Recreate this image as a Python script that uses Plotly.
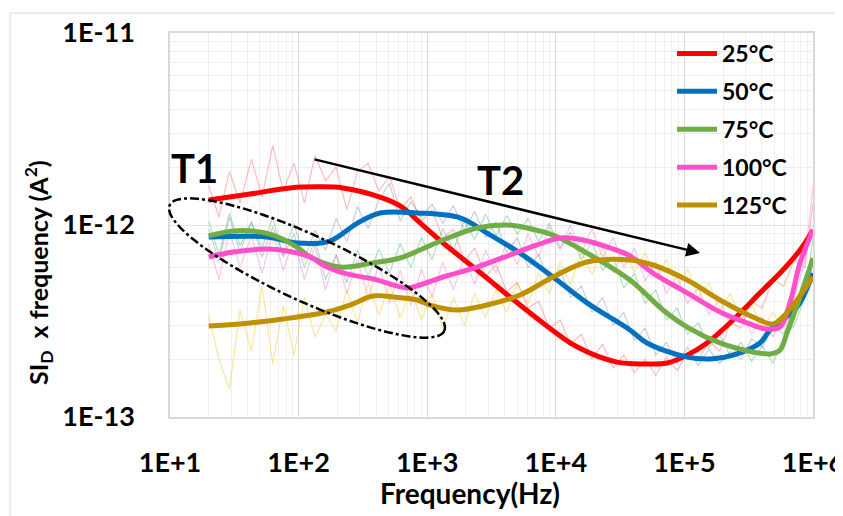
import numpy as np
import plotly.graph_objects as go

# ---- data (A^2; values in units of 1e-13) ----
labels = ["25°C", "50°C", "75°C", "100°C", "125°C"]
colors = ["#ff0000", "#0070c0", "#70ad47", "#ff4fcb", "#bf9000"]
raw_colors = ["rgba(255,90,90,0.40)", "rgba(110,140,170,0.40)", "rgba(60,180,100,0.40)",
              "rgba(245,110,210,0.40)", "rgba(255,200,40,0.45)"]

# raw (noisy) spectra, shared frequency grid
f_raw = [20, 24, 29, 35, 43, 52, 63, 76, 92, 111, 134, 162, 196, 237, 287, 348, 421, 509, 616, 746,
         902, 1090, 1320, 1600, 1940, 2340, 2840, 3430, 4150, 5020, 6080, 7360, 8900, 10800, 13000,
         15800, 19100, 23100, 27900, 33800, 40900, 49500, 59900, 72500, 87700, 106000, 128000,
         155000, 188000, 228000, 275000, 333000, 403000, 488000, 591000, 715000, 865000, 1000000]

raw_25 = [16, 11, 19, 13, 22, 14, 26, 15, 21, 13, 23, 17, 20, 12, 19, 21, 15, 18, 12, 14,
          10.5, 12, 8.5, 9.5, 6.5, 7.6, 5.4, 6.2, 4.5, 5.0, 3.7, 4.0, 2.9, 3.2, 2.4, 2.7,
          2.0, 2.4, 1.8, 2.1, 1.7, 2.0, 1.65, 2.05, 1.75, 2.15, 1.95, 2.5, 2.2, 3.1,
          2.9, 4.0, 3.7, 5.2, 4.8, 6.6, 6.0, 13]
raw_50 = [9.5, 6.5, 11, 7.2, 10.5, 6.8, 9.8, 7.0, 10.2, 6.6, 9.4, 7.4, 10.8, 8.2, 12.5, 9.6, 13.5, 16.5,
          10.5, 13.2, 11, 12.8, 10.2, 12.6, 9.4, 11.8, 8.6, 10.4, 7.2, 8.6, 6.0, 7.0, 5.0, 5.9, 4.2,
          4.8, 3.5, 4.2, 3.0, 3.5, 2.5, 2.9, 2.1, 2.45, 1.9, 2.3, 1.85, 2.25, 1.9, 2.2, 2.0, 2.55,
          2.3, 2.95, 2.7, 3.9, 4.2, 6.5]
raw_75 = [10.5, 7.0, 11.5, 7.8, 10.2, 7.6, 11, 6.8, 9.0, 6.0, 8.4, 5.2, 7.0, 5.0, 7.4, 5.4, 7.5, 5.6,
          8.0, 6.0, 8.6, 6.6, 9.6, 7.4, 10.5, 8.4, 11.4, 8.8, 11.2, 9.0, 10.8, 8.2, 10.2, 7.6, 9.2,
          6.6, 8.2, 5.8, 6.8, 4.7, 5.6, 3.9, 4.6, 3.2, 3.7, 2.7, 3.1, 2.3, 2.7, 2.05, 2.45, 1.95,
          2.35, 1.9, 2.6, 3.0, 4.2, 8.5]
raw_100 = [8.0, 5.2, 9.4, 6.0, 8.8, 5.6, 9.2, 5.8, 8.4, 5.2, 7.8, 4.6, 7.0, 4.4, 6.6, 4.2, 6.2, 3.9,
           5.8, 3.8, 5.9, 4.2, 6.4, 4.6, 6.8, 4.9, 7.4, 5.6, 8.2, 6.2, 9.0, 6.8, 9.8, 7.4, 10,
           7.2, 9.6, 6.8, 8.6, 6.0, 7.6, 5.1, 6.4, 4.4, 5.4, 3.9, 4.7, 3.4, 4.1, 3.0, 3.6, 2.7,
           3.3, 2.6, 3.4, 4.2, 6.5, 16]
raw_125 = [3.4, 2.0, 1.4, 3.6, 2.2, 4.8, 1.9, 3.8, 2.1, 4.2, 2.6, 3.4, 2.8, 4.6, 3.1, 5.0, 3.4, 4.9,
           3.3, 4.6, 3.2, 4.4, 2.9, 4.2, 3.0, 4.4, 3.3, 4.6, 3.5, 5.0, 3.9, 5.6, 4.4, 6.4, 4.9,
           7.2, 5.5, 7.6, 5.6, 7.5, 5.7, 7.2, 5.3, 6.6, 4.7, 5.9, 4.2, 5.0, 3.6, 4.4, 3.2, 3.9,
           2.9, 3.5, 2.9, 3.6, 4.2, 5.5]
raw_series = [raw_25, raw_50, raw_75, raw_100, raw_125]

# smoothed curves
f_25 = [20, 42, 86, 139, 221, 453, 649, 834, 1330, 2440, 4400, 7940, 14600, 29900, 51200, 73200,
        105000, 150000, 239000, 387000, 584000, 793000, 1000000]
s_25 = [13.5, 14.5, 15.6, 15.8, 15.6, 13.8, 12.3, 10.6, 8.06, 5.83, 4.22, 3.09, 2.32, 1.93, 1.89,
        1.91, 2.10, 2.43, 3.20, 4.43, 5.83, 7.41, 9.42]
f_50 = [20, 57, 97, 175, 285, 430, 834, 1800, 2920, 5270, 9510, 17500, 37700, 51200, 105000,
        167000, 239000, 387000, 463000, 751000, 1000000]
s_50 = [8.66, 8.66, 8.06, 8.25, 10.2, 11.55, 11.55, 10.9, 9.08, 7.14, 5.36, 3.93, 2.84, 2.43, 2.05,
        2.01, 2.10, 2.43, 2.84, 3.74, 5.62]
f_75 = [20, 31, 44, 63, 97, 123, 210, 379, 614, 879, 1330, 2440, 4180, 5970, 9510, 17500, 37700,
        68200, 105000, 189000, 341000, 463000, 554000, 628000, 793000, 1000000]
s_75 = [8.77, 9.30, 9.30, 8.87, 7.68, 6.81, 6.04, 6.35, 6.73, 7.41, 8.35, 9.65, 10.0, 9.65, 8.87,
        7.14, 5.17, 3.61, 2.94, 2.43, 2.18, 2.13, 2.23, 2.74, 4.22, 6.73]
f_100 = [20, 31, 57, 90, 123, 166, 238, 379, 697, 879, 1330, 2440, 4400, 7140, 10800, 16300, 26400,
         37700, 57000, 105000, 189000, 307000, 439000, 554000, 662000, 793000, 1000000]
s_100 = [6.81, 7.23, 7.50, 7.23, 6.81, 6.04, 5.56, 5.24, 4.70, 4.87, 5.36, 6.04, 6.98, 7.87, 8.55,
         8.35, 7.59, 6.90, 5.62, 4.43, 3.52, 3.09, 2.87, 2.94, 3.93, 6.35, 9.42]
f_125 = [20, 42, 76, 166, 251, 379, 542, 834, 1050, 1710, 2920, 5270, 9510, 17500, 37700, 57000,
         105000, 189000, 341000, 489000, 584000, 751000, 1000000]
s_125 = [2.98, 3.09, 3.24, 3.52, 3.83, 4.27, 4.22, 4.07, 3.83, 3.61, 3.83, 4.32, 5.36, 6.42, 6.58,
         6.19, 5.17, 4.07, 3.32, 3.05, 3.32, 4.07, 5.36]
smooth_f = [f_25, f_50, f_75, f_100, f_125]
smooth_s = [s_25, s_50, s_75, s_100, s_125]

x_ticks = [1e1, 1e2, 1e3, 1e4, 1e5, 1e6]
x_ticktext = ["1E+1", "1E+2", "1E+3", "1E+4", "1E+5", "1E+6"]
y_ticks = [1e-13, 1e-12, 1e-11]
y_ticktext = ["1E-13", "1E-12", "1E-11"]

# page is 843x516, the plot div sits 8px in from the page corner (body margin)
OFF = 8
W, H = 843 - OFF, 516 - OFF
L, R, T, B = 170, 813, 33, 417   # plot area in page pixels
FONT = "Lato, 'Open Sans', sans-serif"


def px(x):
    return (x - L) / (R - L)


def py(y):
    return (B - y) / (B - T)


fig = go.Figure()

for ys, c in zip(raw_series, raw_colors):
    fig.add_trace(go.Scatter(x=f_raw, y=[v * 1e-13 for v in ys], mode="lines",
                             line=dict(color=c, width=1.2), showlegend=False, hoverinfo="skip"))

for i, (fs, ss) in enumerate(zip(smooth_f, smooth_s)):
    fig.add_trace(go.Scatter(x=fs, y=[v * 1e-13 for v in ss], mode="lines", name=labels[i],
                             legendgroup=labels[i],
                             line=dict(color=colors[i], width=5, shape="spline", smoothing=1.0)))

# dash-dot ellipse around T1 region (drawn in page pixels, converted to paper)
cx, cy, a, b, ang = 307, 268, 151, 33, np.deg2rad(24.6)
t = np.linspace(0, 2 * np.pi, 120)
ex = cx + a * np.cos(t) * np.cos(ang) - b * np.sin(t) * np.sin(ang)
ey = cy + a * np.cos(t) * np.sin(ang) + b * np.sin(t) * np.cos(ang)
path = "M " + " L ".join(f"{px(x):.4f},{py(y):.4f}" for x, y in zip(ex, ey)) + " Z"

shapes = [
    dict(type="path", path=path, xref="paper", yref="paper",
         line=dict(color="black", width=2.5, dash="dashdot")),
    dict(type="rect", xref="paper", yref="paper", x0=px(10), x1=px(860), y0=py(13), y1=py(530),
         line=dict(color="#d9d9d9", width=1), layer="below"),
]

annotations = [
    dict(text="<b>T1</b>", x=px(194), y=py(168), xref="paper", yref="paper", showarrow=False,
         xanchor="center", yanchor="middle",
         font=dict(size=40, color="black", family=FONT)),
    dict(text="<b>T2</b>", x=px(500), y=py(180), xref="paper", yref="paper", showarrow=False,
         xanchor="center", yanchor="middle",
         font=dict(size=40, color="black", family=FONT)),
    dict(text="", x=px(700), y=py(253), xref="paper", yref="paper", showarrow=True,
         ax=313 - 700, ay=159 - 253, arrowhead=2, arrowsize=1.1, arrowwidth=2.5, arrowcolor="black"),
    dict(text="<b>Frequency(Hz)</b>", x=px(470), y=py(493), xref="paper", yref="paper",
         xanchor="center", yanchor="middle",
         showarrow=False, font=dict(size=28, color="black", family=FONT)),
    dict(text="<b>SI<sub>D</sub>  x frequency (A<sup>2</sup>)</b>", x=px(38), y=py(273),
         xref="paper", yref="paper", showarrow=False, textangle=-90,
         xanchor="center", yanchor="middle",
         font=dict(size=25, color="black", family=FONT)),
]

fig.update_layout(
    width=W, height=H,
    margin=dict(l=L - OFF, r=W - (R - OFF), t=T - OFF, b=H - (B - OFF), autoexpand=False),
    paper_bgcolor="white", plot_bgcolor="white",
    font=dict(family=FONT, color="black"),
    shapes=shapes, annotations=annotations,
    legend=dict(x=px(672), y=py(32), xanchor="left", yanchor="top", bgcolor="rgba(0,0,0,0)",
                font=dict(size=23, family=FONT, color="black", weight="bold"),
                tracegroupgap=5, itemwidth=40),
    showlegend=True,
)

fig.update_xaxes(type="log", range=[1, 6], tickvals=x_ticks, ticktext=x_ticktext,
                 tickfont=dict(size=27, family=FONT, weight="bold"), ticks="",
                 ticklabelstandoff=21, automargin=False, ticklabeloverflow="allow",
                 showgrid=True, gridcolor="#d9d9d9", gridwidth=1,
                 minor=dict(dtick="D1", showgrid=True, gridcolor="#efefef", gridwidth=1),
                 showline=True, linecolor="#d9d9d9", linewidth=1.5, mirror=True, zeroline=False)
fig.update_yaxes(type="log", range=[-13, -11], tickvals=y_ticks, ticktext=y_ticktext,
                 tickfont=dict(size=27, family=FONT, weight="bold"), ticks="",
                 ticklabelstandoff=28, automargin=False, ticklabeloverflow="allow",
                 showgrid=True, gridcolor="#e3e3e3", gridwidth=1,
                 minor=dict(dtick="D1", showgrid=True, gridcolor="#efefef", gridwidth=1),
                 showline=True, linecolor="#d9d9d9", linewidth=1.5, mirror=True, zeroline=False)

fig.write_html("out.html")
